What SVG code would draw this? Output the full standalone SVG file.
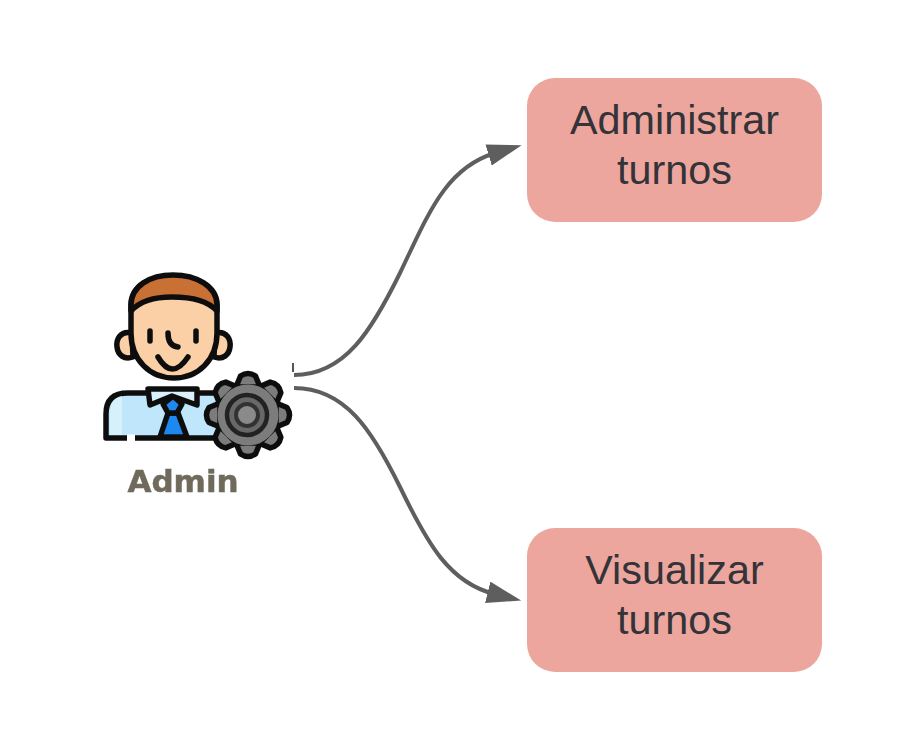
<svg xmlns="http://www.w3.org/2000/svg" width="900" height="750" viewBox="0 0 900 750">
<style>
.box{fill:#eda69e}
.lbl{font-family:"Liberation Sans",Arial,sans-serif;font-size:41.33px;fill:#333338;text-anchor:middle}
.edge{fill:none;stroke:#5e5e5e;stroke-width:4}
.ol{stroke:#111;stroke-width:5.500;stroke-linejoin:round;stroke-linecap:round}
.tooth{fill:#7c7c7c;stroke:#111;stroke-width:5.500;stroke-linejoin:round}
</style>
<defs>
<marker id="arrow" markerUnits="userSpaceOnUse" markerWidth="42" markerHeight="30" refX="7" refY="11" orient="auto">
<path d="M0 0L34.500 11L0 22Z" fill="#5e5e5e"/>
</marker>
<filter id="soft" x="-5%" y="-5%" width="110%" height="110%"><feGaussianBlur stdDeviation="0.6"/></filter>
<path id="t" class="tooth" d="M-12 -28L-7.500 -39Q0 -44 7.500 -39L12 -28Z"/>
</defs>
<rect width="900" height="750" fill="#fff"/>
<g id="connectors">
<path class="edge" d="M294 375C345 375 372 330 400 273C428 215 445 168 495.300 153" marker-end="url(#arrow)"/>
<path class="edge" d="M294 388C345 388 372 430 400 487C428 545 450 583 494.500 594" marker-end="url(#arrow)"/>
<path d="M293 363V372" stroke="#555" stroke-width="2" fill="none"/>
</g>
<g id="admin" filter="url(#soft)">
<path class="ol" fill="#bfe6fb" d="M106 438V414Q106 393 128 393H222V438Z"/>
<path d="M110 435V414Q110 398 122 396V435Z" fill="#d6f0fc"/>
<path d="M127 439H135" stroke="#fff" stroke-width="9"/>
<path class="ol" fill="#1e88f0" stroke-width="3" d="M160 437L168 413H178L187 437Z"/>
<path class="ol" fill="#1e88f0" stroke-width="3" d="M173 396L182 404L177 413H168L163 404Z"/>
<path class="ol" fill="#d8f1fc" stroke-width="4.500" d="M148 389L150 405L172 396L197 405L197 389Z"/>
<path class="ol" fill="#fbd0a6" d="M132 333C120 330 116 340 117 347C118 355 124 360 133 357Z"/>
<path class="ol" fill="#fbd0a6" d="M215 333C227 330 231 340 230 347C229 355 223 360 214 357Z"/>
<path class="ol" fill="#fbd0a6" d="M131 306V333C131 360 150 378 174 378C198 378 217 360 217 333V306C217 286 196 276 173 276C150 276 131 286 131 306Z"/>
<path class="ol" fill="#c96f35" d="M131 311V305C131 286 150 275 173 275C196 275 217 286 217 305V311C208 301 190 297 172 297C155 297 140 301 131 311Z"/>
<path d="M150 331V341M196 331V341" class="ol" fill="none" stroke-width="5.500"/>
<path d="M168 333Q168 346 178 347" class="ol" fill="none" stroke-width="5"/>
<path d="M158 357Q172 381 188 357" class="ol" fill="none" stroke-width="5"/>
<g id="gear" transform="translate(248 415)">
<circle r="32" fill="#7c7c7c" stroke="#111" stroke-width="5.500"/>
<use href="#t"/><use href="#t" transform="rotate(45)"/><use href="#t" transform="rotate(90)"/><use href="#t" transform="rotate(135)"/><use href="#t" transform="rotate(180)"/><use href="#t" transform="rotate(225)"/><use href="#t" transform="rotate(270)"/><use href="#t" transform="rotate(315)"/>
<circle r="30.500" fill="#7c7c7c"/>
<circle cx="-1" r="20" fill="#686868" stroke="#222" stroke-width="4.500"/>
<circle cx="-1" r="11" fill="#8a8a8a" stroke="#333" stroke-width="4"/>
</g>
<text x="183" y="492" font-family="'DejaVu Sans',sans-serif" font-weight="700" font-size="31" fill="#6f6b5c" stroke="#6f6b5c" stroke-width="0.500" text-anchor="middle">Admin</text>
</g>
<g id="administrar">
<rect class="box" x="527" y="78" width="295" height="144" rx="28"/>
<text class="lbl" x="674.500" y="134">Administrar</text>
<text class="lbl" x="674.500" y="184">turnos</text>
</g>
<g id="visualizar">
<rect class="box" x="527" y="528" width="295" height="144" rx="28"/>
<text class="lbl" x="674.500" y="584">Visualizar</text>
<text class="lbl" x="674.500" y="634">turnos</text>
</g>
</svg>
